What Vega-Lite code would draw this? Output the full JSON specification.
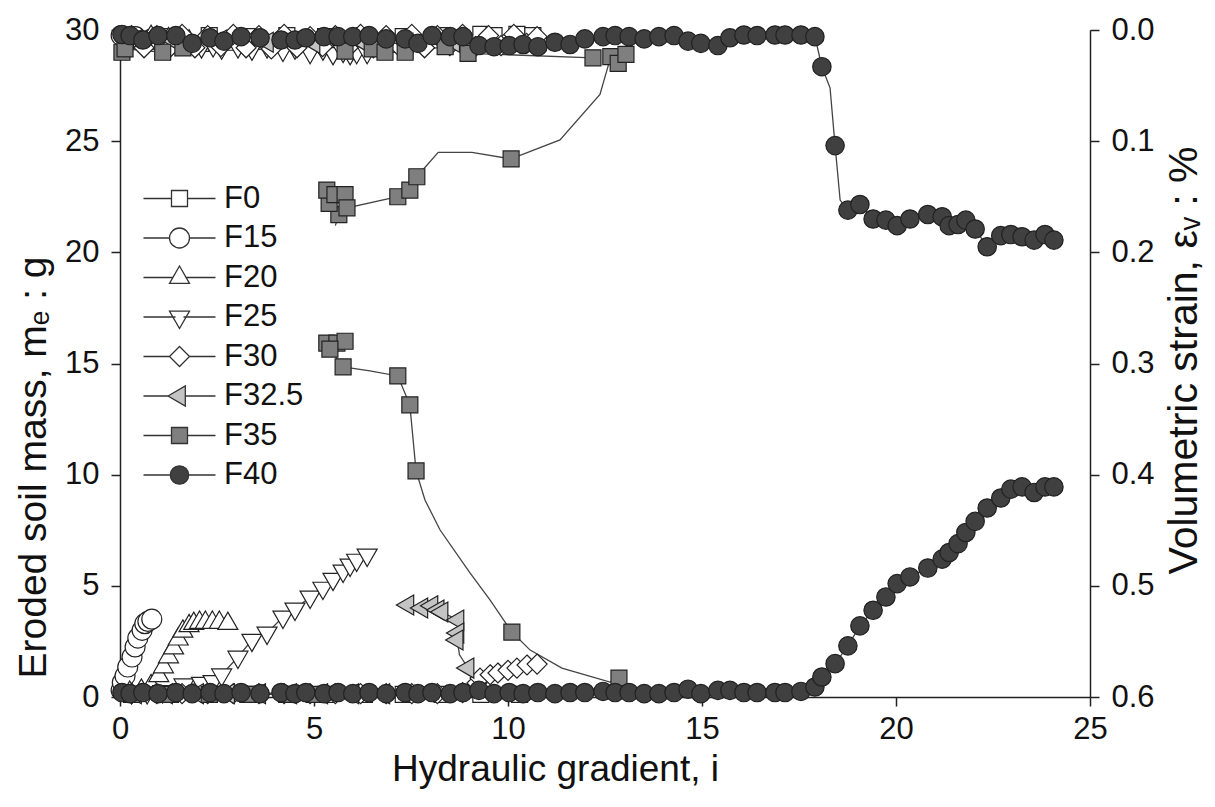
{
  "$schema": "https://vega.github.io/schema/vega-lite/v6.json",
  "width": 970,
  "height": 667,
  "autosize": {"type": "none"},
  "padding": {"left": 120, "top": 30, "right": 125, "bottom": 110},
  "background": "white",
  "config": {
    "view": {"stroke": null},
    "font": "Liberation Sans",
    "axis": {"grid": false, "domainColor": "#222", "tickColor": "#222", "domainWidth": 1.5, "tickWidth": 1.5, "tickSize": 9, "labelColor": "#111", "titleColor": "#111", "labelFont": "Liberation Sans", "titleFont": "Liberation Sans", "labelFontSize": 31, "titleFontSize": 36, "titleFontWeight": "normal", "labelFlush": false, "labelOverlap": false},
    "legend": {"symbolOpacity": 1}
  },
  "data": {"values": [
    {"s":"F0","k":"m","i":0.3,"v":0.12},{"s":"F0","k":"m","i":1.3,"v":0.12},{"s":"F0","k":"m","i":2.3,"v":0.12},{"s":"F0","k":"m","i":3.3,"v":0.12},{"s":"F0","k":"m","i":4.3,"v":0.12},{"s":"F0","k":"m","i":5.3,"v":0.12},{"s":"F0","k":"m","i":6.3,"v":0.12},{"s":"F0","k":"m","i":7.3,"v":0.12},{"s":"F0","k":"m","i":8.3,"v":0.12},{"s":"F0","k":"m","i":9.3,"v":0.12},{"s":"F0","k":"m","i":10.3,"v":0.12},
    {"s":"F0","k":"e","i":0.3,"v":0.006},{"s":"F0","k":"e","i":1.3,"v":0.006},{"s":"F0","k":"e","i":2.3,"v":0.005},{"s":"F0","k":"e","i":3.3,"v":0.006},{"s":"F0","k":"e","i":4.3,"v":0.005},{"s":"F0","k":"e","i":5.3,"v":0.006},{"s":"F0","k":"e","i":6.3,"v":0.005},{"s":"F0","k":"e","i":7.3,"v":0.006},{"s":"F0","k":"e","i":8.3,"v":0.005},{"s":"F0","k":"e","i":9.3,"v":0.004},{"s":"F0","k":"e","i":9.64,"v":0.005},{"s":"F0","k":"e","i":10.23,"v":0.004},{"s":"F0","k":"e","i":10.64,"v":0.005},
    {"s":"F15","k":"m","i":0.03,"v":0.3},{"s":"F15","k":"m","i":0.06,"v":0.65},{"s":"F15","k":"m","i":0.13,"v":0.95},{"s":"F15","k":"m","i":0.2,"v":1.35},{"s":"F15","k":"m","i":0.31,"v":1.8},{"s":"F15","k":"m","i":0.39,"v":2.25},{"s":"F15","k":"m","i":0.46,"v":2.65},{"s":"F15","k":"m","i":0.57,"v":3.0},{"s":"F15","k":"m","i":0.64,"v":3.3},{"s":"F15","k":"m","i":0.72,"v":3.4},{"s":"F15","k":"m","i":0.82,"v":3.5},
    {"s":"F15","k":"e","i":0.03,"v":0.005},{"s":"F15","k":"e","i":0.2,"v":0.008},{"s":"F15","k":"e","i":0.4,"v":0.006},{"s":"F15","k":"e","i":0.6,"v":0.01},{"s":"F15","k":"e","i":0.82,"v":0.008},
    {"s":"F20","k":"m","i":0.25,"v":0.2},{"s":"F20","k":"m","i":0.55,"v":0.3},{"s":"F20","k":"m","i":0.8,"v":0.5},{"s":"F20","k":"m","i":1.0,"v":0.95},{"s":"F20","k":"m","i":1.12,"v":1.35},{"s":"F20","k":"m","i":1.25,"v":1.8},{"s":"F20","k":"m","i":1.38,"v":2.2},{"s":"F20","k":"m","i":1.5,"v":2.6},{"s":"F20","k":"m","i":1.62,"v":2.95},{"s":"F20","k":"m","i":1.78,"v":3.2},{"s":"F20","k":"m","i":1.9,"v":3.3},{"s":"F20","k":"m","i":2.05,"v":3.35},{"s":"F20","k":"m","i":2.2,"v":3.35},{"s":"F20","k":"m","i":2.38,"v":3.35},{"s":"F20","k":"m","i":2.56,"v":3.35},{"s":"F20","k":"m","i":2.78,"v":3.3},
    {"s":"F20","k":"e","i":0.25,"v":0.008},{"s":"F20","k":"e","i":0.55,"v":0.01},{"s":"F20","k":"e","i":0.8,"v":0.006},{"s":"F20","k":"e","i":1.0,"v":0.012},{"s":"F20","k":"e","i":1.25,"v":0.008},{"s":"F20","k":"e","i":1.5,"v":0.012},{"s":"F20","k":"e","i":1.78,"v":0.01},{"s":"F20","k":"e","i":2.05,"v":0.014},{"s":"F20","k":"e","i":2.38,"v":0.01},{"s":"F20","k":"e","i":2.78,"v":0.013},
    {"s":"F25","k":"m","i":0.3,"v":0.2},{"s":"F25","k":"m","i":0.7,"v":0.2},{"s":"F25","k":"m","i":1.1,"v":0.25},{"s":"F25","k":"m","i":1.65,"v":0.55},{"s":"F25","k":"m","i":2.1,"v":0.62},{"s":"F25","k":"m","i":2.4,"v":0.7},{"s":"F25","k":"m","i":2.62,"v":1.0},{"s":"F25","k":"m","i":3.04,"v":1.8},{"s":"F25","k":"m","i":3.4,"v":2.56},{"s":"F25","k":"m","i":3.79,"v":2.88},{"s":"F25","k":"m","i":4.2,"v":3.6},{"s":"F25","k":"m","i":4.51,"v":3.96},{"s":"F25","k":"m","i":4.9,"v":4.5},{"s":"F25","k":"m","i":5.23,"v":4.9},{"s":"F25","k":"m","i":5.49,"v":5.3},{"s":"F25","k":"m","i":5.75,"v":5.67},{"s":"F25","k":"m","i":5.93,"v":5.94},{"s":"F25","k":"m","i":6.1,"v":6.16},{"s":"F25","k":"m","i":6.37,"v":6.39},
    {"s":"F25","k":"e","i":0.3,"v":0.006},{"s":"F25","k":"e","i":0.7,"v":0.008},{"s":"F25","k":"e","i":1.1,"v":0.01},{"s":"F25","k":"e","i":1.65,"v":0.012},{"s":"F25","k":"e","i":2.1,"v":0.015},{"s":"F25","k":"e","i":2.4,"v":0.014},{"s":"F25","k":"e","i":2.62,"v":0.016},{"s":"F25","k":"e","i":3.04,"v":0.015},{"s":"F25","k":"e","i":3.4,"v":0.017},{"s":"F25","k":"e","i":3.79,"v":0.015},{"s":"F25","k":"e","i":4.2,"v":0.018},{"s":"F25","k":"e","i":4.51,"v":0.016},{"s":"F25","k":"e","i":4.9,"v":0.02},{"s":"F25","k":"e","i":5.23,"v":0.017},{"s":"F25","k":"e","i":5.49,"v":0.021},{"s":"F25","k":"e","i":5.75,"v":0.019},{"s":"F25","k":"e","i":5.93,"v":0.021},{"s":"F25","k":"e","i":6.1,"v":0.02},{"s":"F25","k":"e","i":6.37,"v":0.02},
    {"s":"F30","k":"m","i":0.3,"v":0.15},{"s":"F30","k":"m","i":0.95,"v":0.15},{"s":"F30","k":"m","i":1.6,"v":0.15},{"s":"F30","k":"m","i":2.26,"v":0.15},{"s":"F30","k":"m","i":2.92,"v":0.15},{"s":"F30","k":"m","i":3.58,"v":0.15},{"s":"F30","k":"m","i":4.23,"v":0.15},{"s":"F30","k":"m","i":4.9,"v":0.15},{"s":"F30","k":"m","i":5.55,"v":0.15},{"s":"F30","k":"m","i":6.2,"v":0.15},{"s":"F30","k":"m","i":6.86,"v":0.15},{"s":"F30","k":"m","i":7.52,"v":0.15},{"s":"F30","k":"m","i":8.18,"v":0.15},{"s":"F30","k":"m","i":8.83,"v":0.2},{"s":"F30","k":"m","i":9.2,"v":0.63},{"s":"F30","k":"m","i":9.28,"v":0.85},{"s":"F30","k":"m","i":9.54,"v":1.0},{"s":"F30","k":"m","i":9.74,"v":1.08},{"s":"F30","k":"m","i":10.0,"v":1.2},{"s":"F30","k":"m","i":10.23,"v":1.3},{"s":"F30","k":"m","i":10.49,"v":1.44},{"s":"F30","k":"m","i":10.75,"v":1.48},
    {"s":"F30","k":"e","i":0.3,"v":0.005},{"s":"F30","k":"e","i":0.62,"v":0.016},{"s":"F30","k":"e","i":0.95,"v":0.005},{"s":"F30","k":"e","i":1.28,"v":0.016},{"s":"F30","k":"e","i":1.6,"v":0.004},{"s":"F30","k":"e","i":1.93,"v":0.016},{"s":"F30","k":"e","i":2.26,"v":0.005},{"s":"F30","k":"e","i":2.6,"v":0.015},{"s":"F30","k":"e","i":2.92,"v":0.004},{"s":"F30","k":"e","i":3.25,"v":0.016},{"s":"F30","k":"e","i":3.58,"v":0.005},{"s":"F30","k":"e","i":3.9,"v":0.017},{"s":"F30","k":"e","i":4.23,"v":0.004},{"s":"F30","k":"e","i":4.56,"v":0.016},{"s":"F30","k":"e","i":4.9,"v":0.006},{"s":"F30","k":"e","i":5.22,"v":0.015},{"s":"F30","k":"e","i":5.55,"v":0.005},{"s":"F30","k":"e","i":5.88,"v":0.016},{"s":"F30","k":"e","i":6.2,"v":0.004},{"s":"F30","k":"e","i":6.53,"v":0.016},{"s":"F30","k":"e","i":6.86,"v":0.005},{"s":"F30","k":"e","i":7.2,"v":0.015},{"s":"F30","k":"e","i":7.52,"v":0.004},{"s":"F30","k":"e","i":7.85,"v":0.016},{"s":"F30","k":"e","i":8.18,"v":0.005},{"s":"F30","k":"e","i":8.5,"v":0.014},{"s":"F30","k":"e","i":8.83,"v":0.004},{"s":"F30","k":"e","i":9.16,"v":0.015},{"s":"F30","k":"e","i":9.5,"v":0.005},{"s":"F30","k":"e","i":9.82,"v":0.014},{"s":"F30","k":"e","i":10.15,"v":0.004},{"s":"F30","k":"e","i":10.48,"v":0.012},{"s":"F30","k":"e","i":10.75,"v":0.006},
    {"s":"F32.5","k":"m","i":0.4,"v":0.15},{"s":"F32.5","k":"m","i":1.2,"v":0.15},{"s":"F32.5","k":"m","i":2.0,"v":0.15},{"s":"F32.5","k":"m","i":2.8,"v":0.15},{"s":"F32.5","k":"m","i":3.6,"v":0.15},{"s":"F32.5","k":"m","i":4.4,"v":0.15},{"s":"F32.5","k":"m","i":5.2,"v":0.15},{"s":"F32.5","k":"m","i":6.0,"v":0.15},{"s":"F32.5","k":"m","i":6.8,"v":0.15},
    {"s":"F32.5","k":"m","g":"L","i":7.42,"v":4.14},{"s":"F32.5","k":"m","g":"L","i":7.78,"v":4.0},{"s":"F32.5","k":"m","g":"L","i":8.04,"v":4.1},{"s":"F32.5","k":"m","g":"L","i":8.2,"v":3.91},{"s":"F32.5","k":"m","g":"L","i":8.3,"v":3.82},{"s":"F32.5","k":"m","g":"L","i":8.71,"v":3.46},{"s":"F32.5","k":"m","g":"L","i":8.71,"v":2.88},{"s":"F32.5","k":"m","g":"L","i":8.69,"v":2.56},{"s":"F32.5","k":"m","g":"L","i":8.75,"v":1.9,"p":0},{"s":"F32.5","k":"m","g":"L","i":8.97,"v":1.3},{"s":"F32.5","k":"m","g":"L","i":9.3,"v":0.75,"p":0},
    {"s":"F32.5","k":"e","i":0.2,"v":0.008},{"s":"F32.5","k":"e","i":1.4,"v":0.01},{"s":"F32.5","k":"e","i":2.6,"v":0.009},{"s":"F32.5","k":"e","i":3.8,"v":0.011},{"s":"F32.5","k":"e","i":5.0,"v":0.012},{"s":"F32.5","k":"e","i":6.2,"v":0.01},{"s":"F32.5","k":"e","i":7.4,"v":0.012},{"s":"F32.5","k":"e","i":8.6,"v":0.011},
    {"s":"F35","k":"m","g":"b","i":0.3,"v":0.12},{"s":"F35","k":"m","g":"b","i":1.3,"v":0.12},{"s":"F35","k":"m","g":"b","i":2.3,"v":0.12},{"s":"F35","k":"m","g":"b","i":3.3,"v":0.12},{"s":"F35","k":"m","g":"b","i":4.3,"v":0.12},{"s":"F35","k":"m","g":"b","i":5.0,"v":0.12},
    {"s":"F35","k":"m","i":5.55,"v":21.2,"p":0},{"s":"F35","k":"m","i":5.64,"v":21.7},{"s":"F35","k":"m","i":5.39,"v":22.2},{"s":"F35","k":"m","i":5.33,"v":22.8},{"s":"F35","k":"m","i":5.54,"v":22.6},{"s":"F35","k":"m","i":5.8,"v":22.6},{"s":"F35","k":"m","i":5.85,"v":22.0},{"s":"F35","k":"m","i":7.16,"v":22.5},{"s":"F35","k":"m","i":7.47,"v":22.8},{"s":"F35","k":"m","i":7.65,"v":23.4},{"s":"F35","k":"m","i":8.2,"v":24.5,"p":0},{"s":"F35","k":"m","i":9.07,"v":24.5,"p":0},{"s":"F35","k":"m","i":10.08,"v":24.2},{"s":"F35","k":"m","i":11.34,"v":25.06,"p":0},{"s":"F35","k":"m","i":12.37,"v":27.1,"p":0},{"s":"F35","k":"m","i":12.65,"v":28.8},{"s":"F35","k":"m","i":12.84,"v":28.5},{"s":"F35","k":"m","i":13.04,"v":28.9},
    {"s":"F35","k":"m","g":"L","i":5.33,"v":15.92},{"s":"F35","k":"m","g":"L","i":5.59,"v":15.92},{"s":"F35","k":"m","g":"L","i":5.8,"v":16.0},{"s":"F35","k":"m","g":"L","i":5.41,"v":15.65},{"s":"F35","k":"m","g":"L","i":5.75,"v":14.85},{"s":"F35","k":"m","g":"L","i":6.44,"v":14.67,"p":0},{"s":"F35","k":"m","g":"L","i":7.16,"v":14.44},{"s":"F35","k":"m","g":"L","i":7.47,"v":13.14},{"s":"F35","k":"m","g":"L","i":7.63,"v":10.17},{"s":"F35","k":"m","g":"L","i":7.86,"v":8.86,"p":0},{"s":"F35","k":"m","g":"L","i":8.25,"v":7.51,"p":0},{"s":"F35","k":"m","g":"L","i":9.02,"v":5.58,"p":0},{"s":"F35","k":"m","g":"L","i":9.54,"v":4.36,"p":0},{"s":"F35","k":"m","g":"L","i":10.1,"v":2.92},{"s":"F35","k":"m","g":"L","i":10.57,"v":2.11,"p":0},{"s":"F35","k":"m","g":"L","i":11.39,"v":1.3,"p":0},{"s":"F35","k":"m","g":"L","i":12.63,"v":0.67,"p":0},{"s":"F35","k":"m","g":"L","i":12.86,"v":0.85},
    {"s":"F35","k":"e","i":0.05,"v":0.02},{"s":"F35","k":"e","i":0.13,"v":0.017},{"s":"F35","k":"e","i":1.1,"v":0.02},{"s":"F35","k":"e","i":1.62,"v":0.016},{"s":"F35","k":"e","i":5.8,"v":0.019},{"s":"F35","k":"e","i":6.5,"v":0.017},{"s":"F35","k":"e","i":6.83,"v":0.02},{"s":"F35","k":"e","i":7.35,"v":0.02},{"s":"F35","k":"e","i":8.38,"v":0.015},{"s":"F35","k":"e","i":8.97,"v":0.021},{"s":"F35","k":"e","i":12.19,"v":0.025},
    {"s":"F40","k":"m","i":0.05,"v":0.2},{"s":"F40","k":"m","i":0.26,"v":0.15},{"s":"F40","k":"m","i":0.59,"v":0.2},{"s":"F40","k":"m","i":0.98,"v":0.15},{"s":"F40","k":"m","i":1.44,"v":0.2},{"s":"F40","k":"m","i":1.86,"v":0.15},{"s":"F40","k":"m","i":2.32,"v":0.2},{"s":"F40","k":"m","i":2.68,"v":0.15},{"s":"F40","k":"m","i":3.12,"v":0.2},{"s":"F40","k":"m","i":3.61,"v":0.15},{"s":"F40","k":"m","i":4.15,"v":0.2},{"s":"F40","k":"m","i":4.51,"v":0.15},{"s":"F40","k":"m","i":4.79,"v":0.2},{"s":"F40","k":"m","i":5.26,"v":0.15},{"s":"F40","k":"m","i":5.62,"v":0.2},{"s":"F40","k":"m","i":6.0,"v":0.15},{"s":"F40","k":"m","i":6.42,"v":0.2},{"s":"F40","k":"m","i":6.86,"v":0.15},{"s":"F40","k":"m","i":7.35,"v":0.2},{"s":"F40","k":"m","i":7.68,"v":0.15},{"s":"F40","k":"m","i":8.04,"v":0.2},{"s":"F40","k":"m","i":8.51,"v":0.15},{"s":"F40","k":"m","i":8.84,"v":0.2},{"s":"F40","k":"m","i":9.25,"v":0.3},{"s":"F40","k":"m","i":9.64,"v":0.15},{"s":"F40","k":"m","i":10.03,"v":0.2},{"s":"F40","k":"m","i":10.39,"v":0.15},{"s":"F40","k":"m","i":10.77,"v":0.2},{"s":"F40","k":"m","i":11.21,"v":0.15},{"s":"F40","k":"m","i":11.6,"v":0.2},{"s":"F40","k":"m","i":11.98,"v":0.2},{"s":"F40","k":"m","i":12.45,"v":0.25},{"s":"F40","k":"m","i":12.76,"v":0.2},{"s":"F40","k":"m","i":13.12,"v":0.2},{"s":"F40","k":"m","i":13.51,"v":0.15},{"s":"F40","k":"m","i":13.89,"v":0.15},{"s":"F40","k":"m","i":14.28,"v":0.2},{"s":"F40","k":"m","i":14.64,"v":0.35},{"s":"F40","k":"m","i":14.97,"v":0.15},{"s":"F40","k":"m","i":15.41,"v":0.3},{"s":"F40","k":"m","i":15.72,"v":0.3},{"s":"F40","k":"m","i":16.08,"v":0.2},{"s":"F40","k":"m","i":16.42,"v":0.2},{"s":"F40","k":"m","i":16.88,"v":0.2},{"s":"F40","k":"m","i":17.14,"v":0.2},{"s":"F40","k":"m","i":17.55,"v":0.25},{"s":"F40","k":"m","i":17.91,"v":0.45},{"s":"F40","k":"m","i":18.09,"v":0.9},{"s":"F40","k":"m","i":18.43,"v":1.5},{"s":"F40","k":"m","i":18.76,"v":2.3},{"s":"F40","k":"m","i":19.07,"v":3.2},{"s":"F40","k":"m","i":19.41,"v":3.9},{"s":"F40","k":"m","i":19.74,"v":4.5},{"s":"F40","k":"m","i":20.03,"v":5.1},{"s":"F40","k":"m","i":20.36,"v":5.4},{"s":"F40","k":"m","i":20.82,"v":5.8},{"s":"F40","k":"m","i":21.19,"v":6.2},{"s":"F40","k":"m","i":21.37,"v":6.5},{"s":"F40","k":"m","i":21.6,"v":6.9},{"s":"F40","k":"m","i":21.8,"v":7.4},{"s":"F40","k":"m","i":22.04,"v":7.9},{"s":"F40","k":"m","i":22.35,"v":8.5},{"s":"F40","k":"m","i":22.7,"v":8.95},{"s":"F40","k":"m","i":22.96,"v":9.35},{"s":"F40","k":"m","i":23.25,"v":9.45},{"s":"F40","k":"m","i":23.56,"v":9.2},{"s":"F40","k":"m","i":23.84,"v":9.45},{"s":"F40","k":"m","i":24.07,"v":9.45},
    {"s":"F40","k":"e","i":0.05,"v":0.004},{"s":"F40","k":"e","i":0.26,"v":0.005},{"s":"F40","k":"e","i":0.59,"v":0.009},{"s":"F40","k":"e","i":0.98,"v":0.005},{"s":"F40","k":"e","i":1.44,"v":0.005},{"s":"F40","k":"e","i":1.86,"v":0.012},{"s":"F40","k":"e","i":2.32,"v":0.007},{"s":"F40","k":"e","i":2.68,"v":0.01},{"s":"F40","k":"e","i":3.12,"v":0.006},{"s":"F40","k":"e","i":3.61,"v":0.007},{"s":"F40","k":"e","i":4.15,"v":0.009},{"s":"F40","k":"e","i":4.51,"v":0.009},{"s":"F40","k":"e","i":4.79,"v":0.007},{"s":"F40","k":"e","i":5.26,"v":0.006},{"s":"F40","k":"e","i":5.62,"v":0.006},{"s":"F40","k":"e","i":6.0,"v":0.006},{"s":"F40","k":"e","i":6.42,"v":0.005},{"s":"F40","k":"e","i":6.86,"v":0.008},{"s":"F40","k":"e","i":7.35,"v":0.008},{"s":"F40","k":"e","i":7.68,"v":0.012},{"s":"F40","k":"e","i":8.04,"v":0.005},{"s":"F40","k":"e","i":8.51,"v":0.006},{"s":"F40","k":"e","i":8.84,"v":0.006},{"s":"F40","k":"e","i":9.25,"v":0.014},{"s":"F40","k":"e","i":9.64,"v":0.015},{"s":"F40","k":"e","i":10.03,"v":0.014},{"s":"F40","k":"e","i":10.39,"v":0.013},{"s":"F40","k":"e","i":10.77,"v":0.015},{"s":"F40","k":"e","i":11.21,"v":0.011},{"s":"F40","k":"e","i":11.6,"v":0.013},{"s":"F40","k":"e","i":11.98,"v":0.008},{"s":"F40","k":"e","i":12.45,"v":0.006},{"s":"F40","k":"e","i":12.76,"v":0.005},{"s":"F40","k":"e","i":13.12,"v":0.006},{"s":"F40","k":"e","i":13.51,"v":0.008},{"s":"F40","k":"e","i":13.89,"v":0.006},{"s":"F40","k":"e","i":14.28,"v":0.005},{"s":"F40","k":"e","i":14.64,"v":0.01},{"s":"F40","k":"e","i":14.97,"v":0.012},{"s":"F40","k":"e","i":15.41,"v":0.014},{"s":"F40","k":"e","i":15.72,"v":0.007},{"s":"F40","k":"e","i":16.08,"v":0.0045},{"s":"F40","k":"e","i":16.42,"v":0.005},{"s":"F40","k":"e","i":16.88,"v":0.0045},{"s":"F40","k":"e","i":17.14,"v":0.0045},{"s":"F40","k":"e","i":17.55,"v":0.0045},{"s":"F40","k":"e","i":17.91,"v":0.006},{"s":"F40","k":"e","i":18.09,"v":0.033},{"s":"F40","k":"e","i":18.3,"v":0.052,"p":0},{"s":"F40","k":"e","i":18.43,"v":0.104},{"s":"F40","k":"e","i":18.56,"v":0.153,"p":0},{"s":"F40","k":"e","i":18.76,"v":0.162},{"s":"F40","k":"e","i":19.07,"v":0.157},{"s":"F40","k":"e","i":19.41,"v":0.17},{"s":"F40","k":"e","i":19.74,"v":0.171},{"s":"F40","k":"e","i":20.03,"v":0.176},{"s":"F40","k":"e","i":20.36,"v":0.17},{"s":"F40","k":"e","i":20.82,"v":0.166},{"s":"F40","k":"e","i":21.19,"v":0.168},{"s":"F40","k":"e","i":21.37,"v":0.176},{"s":"F40","k":"e","i":21.6,"v":0.175},{"s":"F40","k":"e","i":21.8,"v":0.171},{"s":"F40","k":"e","i":22.04,"v":0.179},{"s":"F40","k":"e","i":22.35,"v":0.195},{"s":"F40","k":"e","i":22.7,"v":0.185},{"s":"F40","k":"e","i":22.96,"v":0.184},{"s":"F40","k":"e","i":23.25,"v":0.186},{"s":"F40","k":"e","i":23.56,"v":0.189},{"s":"F40","k":"e","i":23.84,"v":0.184},{"s":"F40","k":"e","i":24.07,"v":0.189}
  ]},
  "encoding": {
    "x": {"field": "i", "type": "quantitative", "scale": {"domain": [0, 25], "nice": false, "zero": false},
      "axis": {"values": [0, 5, 10, 15, 20, 25], "format": "d", "title": "Hydraulic gradient, i", "labelPadding": 8, "titlePadding": 7, "titleFontSize": 37, "titleX": 435}}
  },
  "layer": [
    {
      "transform": [{"filter": "datum.k == 'm'"}],
      "mark": {"type": "line", "color": "#444", "strokeWidth": 1.3},
      "encoding": {
        "y": {"field": "v", "type": "quantitative", "scale": {"domain": [0, 30], "nice": false},
          "axis": {"values": [0, 5, 10, 15, 20, 25, 30], "title": "Eroded soil mass, mₑ : g", "labelPadding": 12, "titlePadding": 11, "titleFontSize": 39, "titleY": 437}},
        "detail": [{"field": "s"}, {"field": "g"}],
        "order": {"value": null}
      }
    },
    {
      "transform": [{"filter": "datum.k == 'e'"}],
      "mark": {"type": "line", "color": "#444", "strokeWidth": 1.3},
      "encoding": {
        "y": {"field": "v", "type": "quantitative", "scale": {"domain": [0, 0.6], "nice": false, "reverse": true},
          "axis": {"orient": "right", "values": [0, 0.1, 0.2, 0.3, 0.4, 0.5, 0.6], "format": ".1f", "title": "Volumetric strain, εᵥ : %", "labelPadding": 12, "titlePadding": 10, "titleFontSize": 41, "titleAngle": 270, "titleBaseline": "top", "titleY": 330}},
        "detail": [{"field": "s"}, {"field": "g"}],
        "order": {"value": null}
      }
    },
    {
      "transform": [{"filter": "datum.k == 'm' && datum.p !== 0"}],
      "mark": {"type": "point", "filled": true, "stroke": "#222", "strokeWidth": 1.2, "opacity": 1, "size": 400},
      "encoding": {
        "y": {"field": "v", "type": "quantitative", "scale": {"domain": [0, 30], "nice": false}, "axis": null},
        "shape": {"field": "s", "type": "nominal", "legend": null, "scale": {"domain": ["F0", "F15", "F20", "F25", "F30", "F32.5", "F35", "F40"], "range": ["M-0.8,-0.8L0.8,-0.8L0.8,0.8L-0.8,0.8Z", "M-1,0A1,1,0,1,1,1,0A1,1,0,1,1,-1,0Z", "M0,-1.15L1,0.58L-1,0.58Z", "M0,1.15L1,-0.58L-1,-0.58Z", "M0,-1L1,0L0,1L-1,0Z", "M-1.15,0L0.58,-1L0.58,1Z", "M-0.8,-0.8L0.8,-0.8L0.8,0.8L-0.8,0.8Z", "M-0.92,0A0.92,0.92,0,1,1,0.92,0A0.92,0.92,0,1,1,-0.92,0Z"]}},
        "fill": {"field": "s", "type": "nominal", "legend": null, "scale": {"domain": ["F0", "F15", "F20", "F25", "F30", "F32.5", "F35", "F40"], "range": ["#ffffff", "#ffffff", "#ffffff", "#ffffff", "#ffffff", "#c4c4c4", "#7f7f7f", "#404040"]}}
      }
    },
    {
      "transform": [{"filter": "datum.k == 'e' && datum.p !== 0"}],
      "mark": {"type": "point", "filled": true, "stroke": "#222", "strokeWidth": 1.2, "opacity": 1, "size": 400},
      "encoding": {
        "y": {"field": "v", "type": "quantitative", "scale": {"domain": [0, 0.6], "nice": false, "reverse": true}, "axis": null},
        "shape": {"field": "s", "type": "nominal", "legend": null, "scale": {"domain": ["F0", "F15", "F20", "F25", "F30", "F32.5", "F35", "F40"], "range": ["M-0.8,-0.8L0.8,-0.8L0.8,0.8L-0.8,0.8Z", "M-1,0A1,1,0,1,1,1,0A1,1,0,1,1,-1,0Z", "M0,-1.15L1,0.58L-1,0.58Z", "M0,1.15L1,-0.58L-1,-0.58Z", "M0,-1L1,0L0,1L-1,0Z", "M-1.15,0L0.58,-1L0.58,1Z", "M-0.8,-0.8L0.8,-0.8L0.8,0.8L-0.8,0.8Z", "M-0.92,0A0.92,0.92,0,1,1,0.92,0A0.92,0.92,0,1,1,-0.92,0Z"]}},
        "fill": {"field": "s", "type": "nominal", "legend": null, "scale": {"domain": ["F0", "F15", "F20", "F25", "F30", "F32.5", "F35", "F40"], "range": ["#ffffff", "#ffffff", "#ffffff", "#ffffff", "#ffffff", "#c4c4c4", "#7f7f7f", "#404040"]}}
      }
    },
    {
      "transform": [{"filter": "false"}],
      "mark": {"type": "point", "filled": true, "stroke": "#222", "strokeWidth": 1.2, "opacity": 1, "size": 400},
      "encoding": {
        "shape": {"field": "s", "type": "nominal", "scale": {"domain": ["F0", "F15", "F20", "F25", "F30", "F32.5", "F35", "F40"], "range": ["M-3.6,0L-0.8,0M0.8,0L3.6,0M-0.8,-0.8L0.8,-0.8L0.8,0.8L-0.8,0.8Z", "M-3.6,0L-1,0M1,0L3.6,0M-1,0A1,1,0,1,1,1,0A1,1,0,1,1,-1,0Z", "M-3.6,0L-0.6,0M0.6,0L3.6,0M0,-1.15L1,0.58L-1,0.58Z", "M-3.6,0L-0.4,0M0.4,0L3.6,0M0,1.15L1,-0.58L-1,-0.58Z", "M-3.6,0L-1,0M1,0L3.6,0M0,-1L1,0L0,1L-1,0Z", "M-3.6,0L-1.15,0M0.58,0L3.6,0M-1.15,0L0.58,-1L0.58,1Z", "M-3.6,0L-0.8,0M0.8,0L3.6,0M-0.8,-0.8L0.8,-0.8L0.8,0.8L-0.8,0.8Z", "M-3.6,0L-0.92,0M0.92,0L3.6,0M-0.92,0A0.92,0.92,0,1,1,0.92,0A0.92,0.92,0,1,1,-0.92,0Z"]},
          "legend": {"title": null, "orient": "none", "legendX": 44, "legendY": 153, "labelFontSize": 31, "labelFont": "Liberation Sans", "labelColor": "#111", "labelOffset": 29, "rowPadding": 7.5, "symbolSize": 400, "symbolOpacity": 1, "symbolStrokeColor": "#333", "symbolStrokeWidth": 1.3, "padding": 0,
            "encode": {"symbols": {"update": {"stroke": {"value": "#333"}, "strokeWidth": {"value": 1.3}, "opacity": {"value": 1}, "fillOpacity": {"value": 1}, "strokeOpacity": {"value": 1}}}}}},
        "fill": {"field": "s", "type": "nominal", "scale": {"domain": ["F0", "F15", "F20", "F25", "F30", "F32.5", "F35", "F40"], "range": ["#ffffff", "#ffffff", "#ffffff", "#ffffff", "#ffffff", "#c4c4c4", "#7f7f7f", "#404040"]},
          "legend": {"title": null, "orient": "none", "legendX": 44, "legendY": 153, "labelFontSize": 31, "labelFont": "Liberation Sans", "labelColor": "#111", "labelOffset": 29, "rowPadding": 7.5, "symbolSize": 400, "symbolOpacity": 1, "symbolStrokeColor": "#333", "symbolStrokeWidth": 1.3, "padding": 0,
            "encode": {"symbols": {"update": {"stroke": {"value": "#333"}, "strokeWidth": {"value": 1.3}, "opacity": {"value": 1}, "fillOpacity": {"value": 1}, "strokeOpacity": {"value": 1}}}}}}
      }
    }
  ],
  "resolve": {"scale": {"y": "independent", "shape": "independent", "fill": "independent"}}
}
